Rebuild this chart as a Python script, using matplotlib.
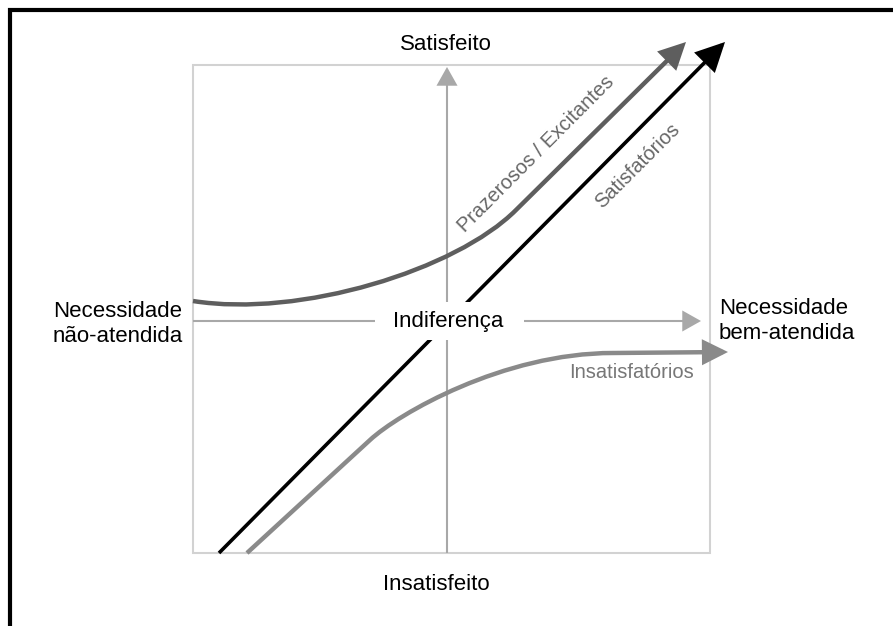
import matplotlib.pyplot as plt
from matplotlib.patches import FancyArrowPatch, Rectangle
from matplotlib.path import Path
from matplotlib.lines import Line2D

plt.rcParams['font.family'] = ['Liberation Sans', 'DejaVu Sans']

# diagram units: box spans 0..box_w by 0..box_h
box_w, box_h = 517, 488
axis_x0, axis_y0 = 254, 232
h_axis_end, v_axis_end = 508, 486

# Satisfatórios: straight line
satisf_x = [26, 532]
satisf_y = [0, 511]

# Prazerosos / Excitantes: cubic bezier then straight
praz_x = [0, 107, 263, 323, 493]
praz_y = [252, 235, 283, 343, 511]

# Insatisfatórios: straight, cubic bezier, straight
insat_x = [54, 177, 205, 310, 420, 535]
insat_y = [0, 113, 139, 200, 200, 201]

labels_main = {
    'top': 'Satisfeito',
    'bottom': 'Insatisfeito',
    'middle': 'Indiferença',
    'left': 'Necessidade\nnão-atendida',
    'right': 'Necessidade\nbem-atendida',
}
curve_labels = ['Prazerosos / Excitantes', 'Satisfatórios', 'Insatisfatórios']

fig = plt.figure(figsize=(8.93, 6.26), dpi=100)
ax = fig.add_axes([0, 0, 1, 1])
ax.set_xlim(-193, 700)
ax.set_ylim(-73, 553)
ax.axis('off')

# outer frame (open on right and bottom)
ax.add_line(Line2D([-183, -183, 700], [-73, 543, 543], color='black', lw=3,
                   solid_joinstyle='miter'))

# inner box
ax.add_patch(Rectangle((0, 0), box_w, box_h, fill=False, ec='#d2d2d2', lw=1.5, zorder=1))


def arrow(path, color, lw, scale, z, hl=0.8, hw=0.4):
    ax.add_patch(FancyArrowPatch(path=path,
                                 arrowstyle=f'-|>,head_length={hl},head_width={hw}',
                                 mutation_scale=scale, color=color, lw=lw,
                                 joinstyle='miter', capstyle='butt', zorder=z))


# axes arrows
axis_col = '#a8a8a8'
arrow(Path([(0, axis_y0), (h_axis_end, axis_y0)]), axis_col, 1.5, 14, 2, 0.8, 0.45)
arrow(Path([(axis_x0, 0), (axis_x0, v_axis_end)]), axis_col, 1.5, 14, 2, 0.8, 0.45)

# curves
praz_path = Path(list(zip(praz_x, praz_y)),
                 [Path.MOVETO, Path.CURVE4, Path.CURVE4, Path.CURVE4, Path.LINETO])
arrow(praz_path, '#5e5e5e', 3.2, 18, 3)

insat_path = Path(list(zip(insat_x, insat_y)),
                  [Path.MOVETO, Path.LINETO, Path.CURVE4, Path.CURVE4, Path.CURVE4, Path.LINETO])
arrow(insat_path, '#8a8a8a', 3.2, 17, 3)

satisf_path = Path(list(zip(satisf_x, satisf_y)))
arrow(satisf_path, 'black', 2.6, 21, 4)

# white patch behind "Indiferença"
ax.add_patch(Rectangle((182, 213), 149, 38, fc='white', ec='none', zorder=5))

fs = 16
ax.text(253, 509, labels_main['top'], fontsize=fs, ha='center', va='center')
ax.text(243, -32, labels_main['bottom'], fontsize=fs, ha='center', va='center')
ax.text(255, 232, labels_main['middle'], fontsize=fs, ha='center', va='center', zorder=6)
ax.text(-140, 229, labels_main['left'], fontsize=fs, ha='left', va='center', linespacing=1.25)
ax.text(526, 232, labels_main['right'], fontsize=fs, ha='left', va='center', linespacing=1.25)

cfs = 14.5
ax.text(343, 399, curve_labels[0], fontsize=cfs, color='#666666', rotation=45,
        rotation_mode='anchor', ha='center', va='center')
ax.text(445, 387, curve_labels[1], fontsize=cfs, color='#666666', rotation=45,
        rotation_mode='anchor', ha='center', va='center')
ax.text(501, 180, curve_labels[2], fontsize=cfs, color='#777777', ha='right', va='center')

fig.savefig('out.png', dpi=100, facecolor='white')
